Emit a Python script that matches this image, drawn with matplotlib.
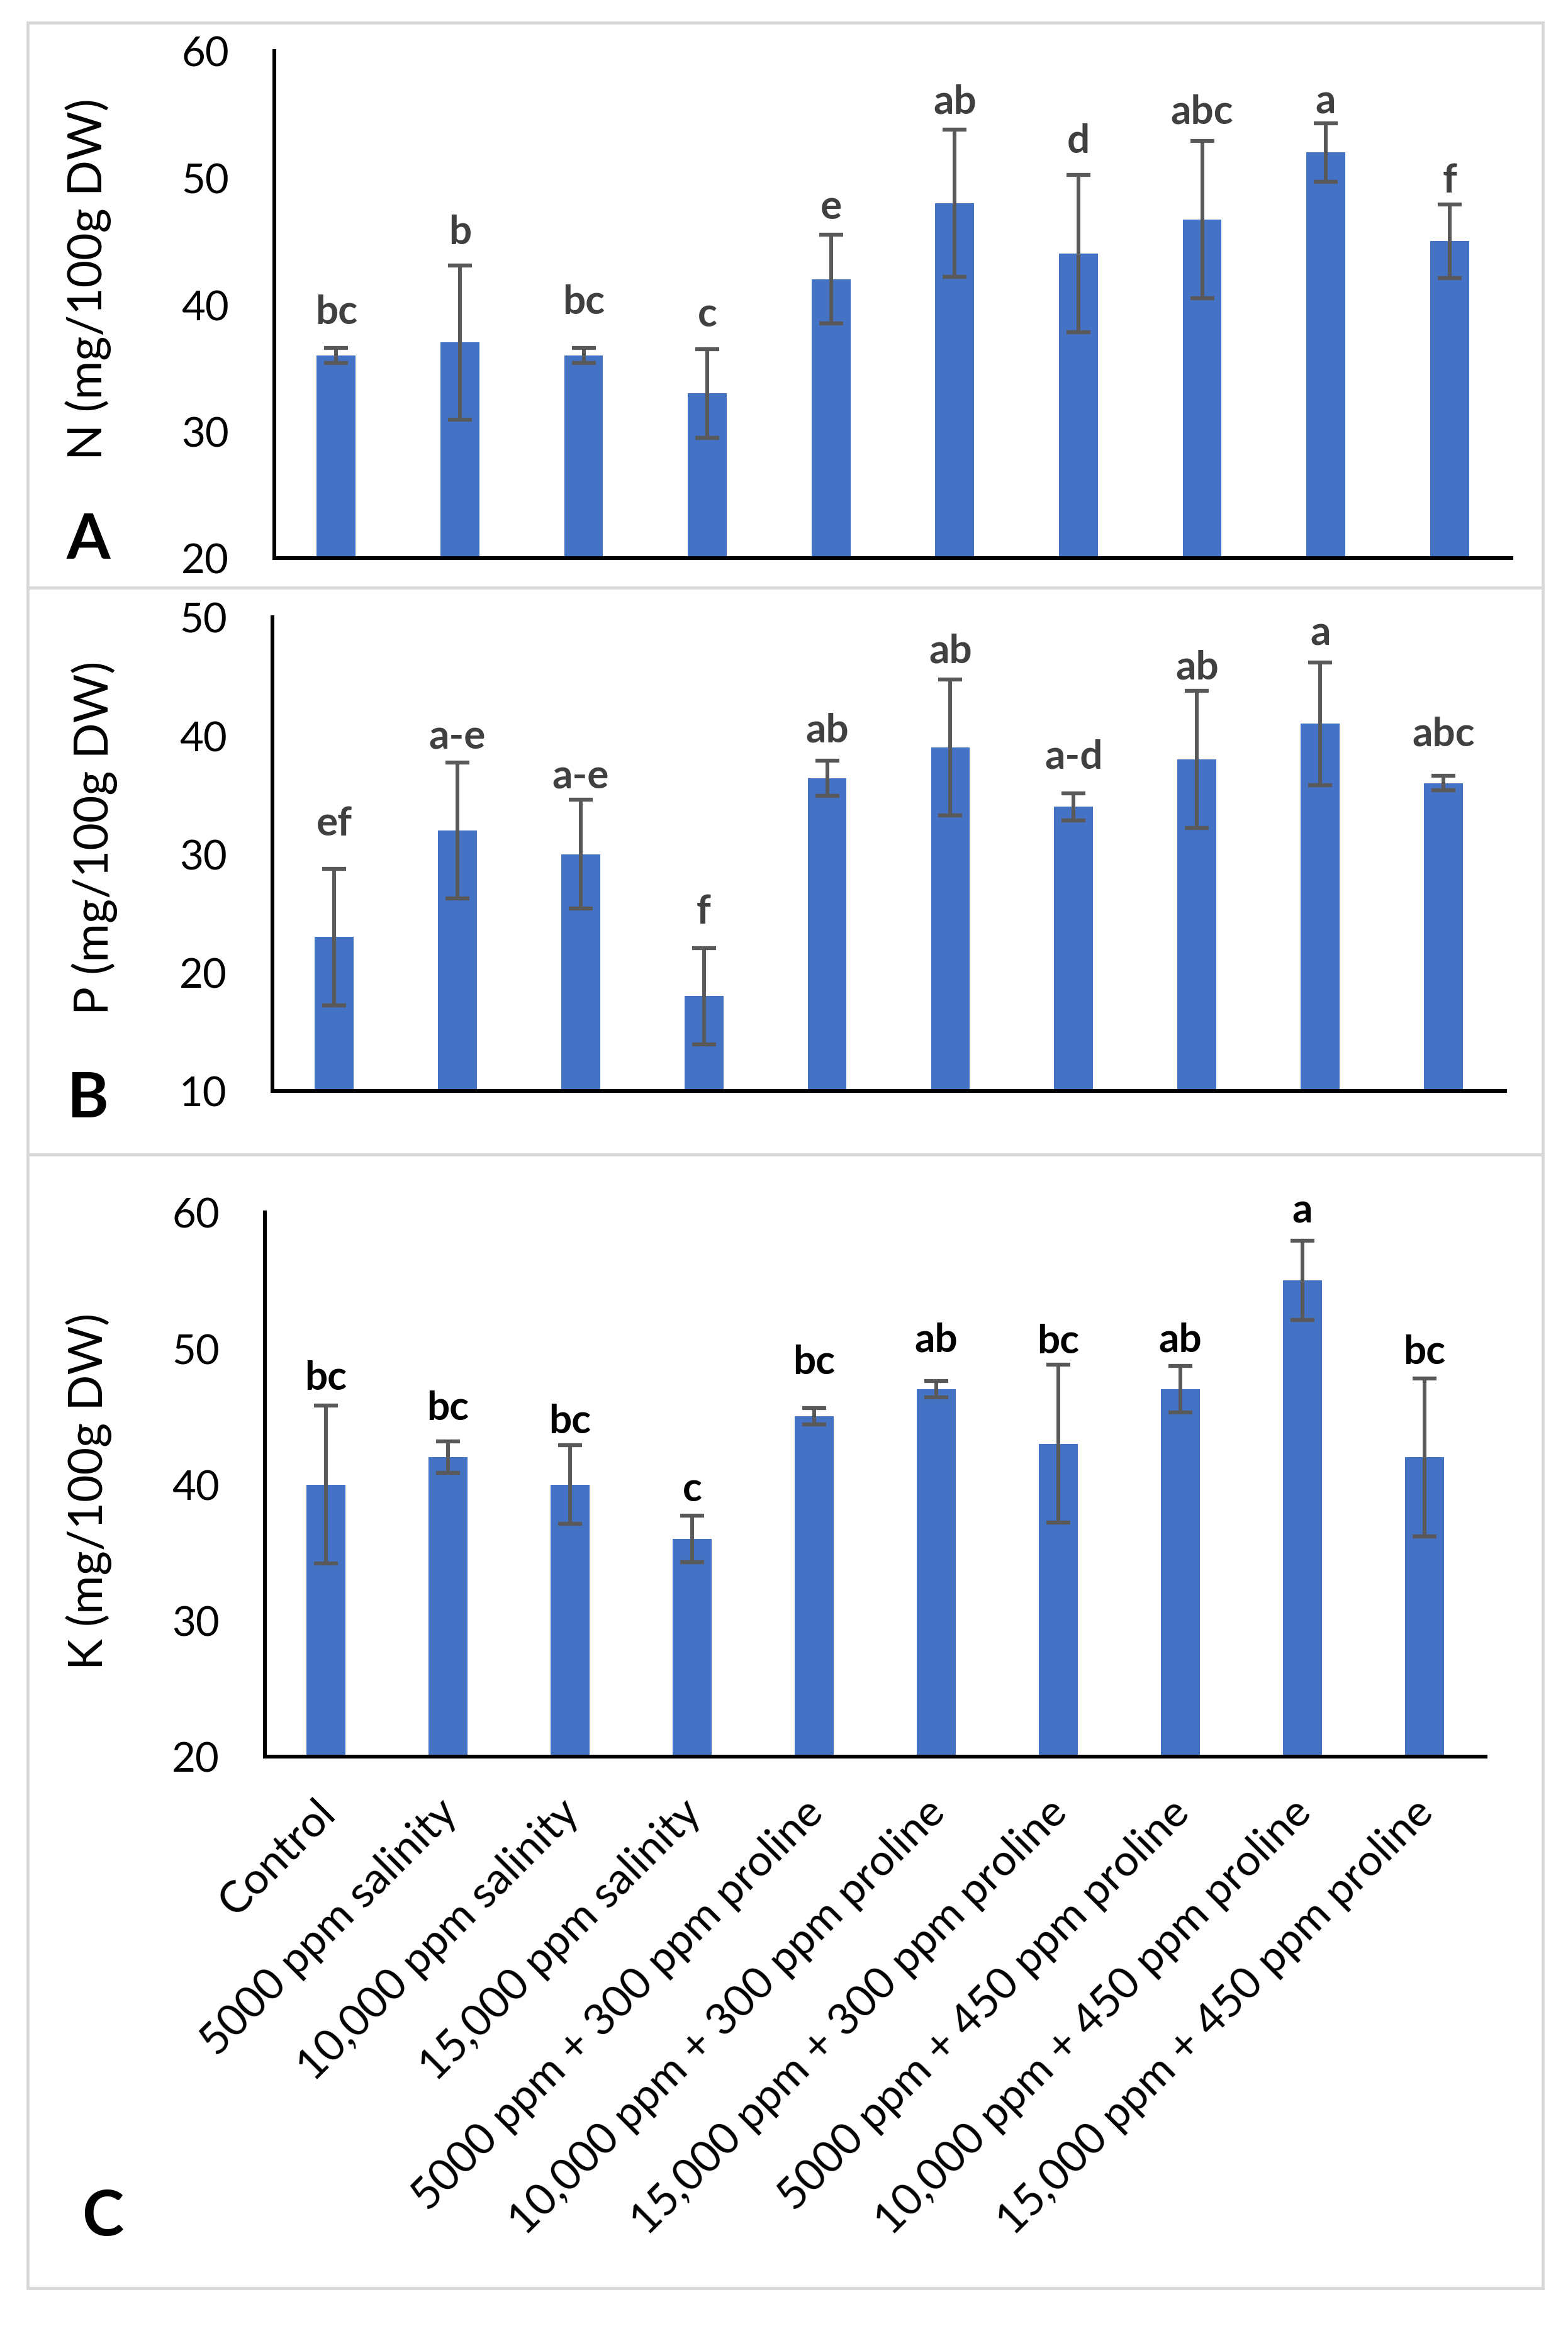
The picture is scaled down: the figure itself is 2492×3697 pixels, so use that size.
import matplotlib
matplotlib.use('Agg')
import matplotlib.pyplot as plt
import matplotlib.transforms as mtransforms
from matplotlib.patches import Rectangle

plt.rcParams['font.family'] = ['Lato', 'DejaVu Sans']

groups = ['Control', '5000 ppm salinity', '10,000 ppm salinity', '15,000 ppm salinity',
          '5000 ppm + 300 ppm proline', '10,000 ppm + 300 ppm proline',
          '15,000 ppm + 300 ppm proline', '5000 ppm + 450 ppm proline',
          '10,000 ppm + 450 ppm proline', '15,000 ppm + 450 ppm proline']

# N content
n_mean = [36, 37, 36, 33, 42, 48, 44, 46.7, 52, 45]
n_err = [0.6, 6.1, 0.6, 3.5, 3.5, 5.8, 6.2, 6.2, 2.3, 2.9]
n_letters = ['bc', 'b', 'bc', 'c', 'e', 'ab', 'd', 'abc', 'a', 'f']
n_lab_y = [38.5, 44.8, 39.3, 38.3, 46.8, 55.1, 52.0, 54.3, 55.1, 48.9]

# P content
p_mean = [23, 32, 30, 18, 36.4, 39, 34, 38, 41, 36]
p_err = [5.75, 5.75, 4.6, 4.05, 1.5, 5.75, 1.15, 5.8, 5.2, 0.6]
p_letters = ['ef', 'a-e', 'a-e', 'f', 'ab', 'ab', 'a-d', 'ab', 'a', 'abc']
p_lab_y = [31.6, 38.9, 35.6, 24.2, 39.5, 46.2, 37.3, 44.8, 47.7, 39.2]

# K content
k_mean = [40, 42, 40, 36, 45, 47, 43, 47, 55, 42]
k_err = [5.8, 1.15, 2.9, 1.7, 0.6, 0.6, 5.8, 1.7, 2.9, 5.8]
k_letters = ['bc', 'bc', 'bc', 'c', 'bc', 'ab', 'bc', 'ab', 'a', 'bc']
k_lab_y = [47.0, 44.8, 43.8, 38.8, 48.15, 49.8, 49.7, 49.8, 59.3, 48.9]

W, H = 2492, 3698
fig = plt.figure(figsize=(W / 100, H / 100), dpi=100)


def px_box(x0, y0, x1, y1):
    # pixel box (top-left origin) -> figure fraction [left, bottom, width, height]
    return [x0 / W, 1 - y1 / H, (x1 - x0) / W, (y1 - y0) / H]


# light grey panel frames
for y0, y1 in [(37, 935), (935, 1836), (1836, 3638)]:
    x0, b, w, h = px_box(44, y0, 2452, y1)
    fig.add_artist(Rectangle((x0, b), w, h, transform=fig.transFigure,
                             fill=False, edgecolor='#d9d9d9', lw=3.5))

panels = [
    dict(box=(436, 82, 2402, 888), mean=n_mean, err=n_err, letters=n_letters,
         lab_y=n_lab_y, ylim=(20, 60), ylabel='N (mg/100g DW)', ylab_xy=(140, 444),
         tag='A', tag_xy=(140, 860), lcol='#404040'),
    dict(box=(433, 982, 2392, 1735), mean=p_mean, err=p_err, letters=p_letters,
         lab_y=p_lab_y, ylim=(10, 50), ylabel='P (mg/100g DW)', ylab_xy=(150, 1332),
         tag='B', tag_xy=(140, 1748), lcol='#404040'),
    dict(box=(421, 1928, 2361, 2793), mean=k_mean, err=k_err, letters=k_letters,
         lab_y=k_lab_y, ylim=(20, 60), ylabel='K (mg/100g DW)', ylab_xy=(141, 2370),
         tag='C', tag_xy=(163, 3525), lcol='black'),
]

x = list(range(len(groups)))
for i, pn in enumerate(panels):
    ax = fig.add_axes(px_box(*pn['box']))
    ax.bar(x, pn['mean'], width=0.315, color='#4472C4', zorder=2)
    ax.errorbar(x, pn['mean'], yerr=pn['err'], fmt='none', ecolor='#595959',
                elinewidth=4.3, capsize=14, capthick=4.5, zorder=3)
    for xi, lab, ly in zip(x, pn['letters'], pn['lab_y']):
        ax.text(xi, ly, lab, ha='center', va='baseline', fontsize=46,
                fontweight='bold', color=pn['lcol'])
    lo, hi = pn['ylim']
    ax.set_ylim(lo, hi)
    ax.set_yticks(range(lo, hi + 1, 10))
    ax.set_xlim(-0.5, len(groups) - 0.5)
    for s in ['top', 'right']:
        ax.spines[s].set_visible(False)
    for s in ['left', 'bottom']:
        ax.spines[s].set_linewidth(4.3)
        ax.spines[s].set_color('black')
    ax.tick_params(axis='y', length=0, pad=52, labelsize=47)
    if i < 2:
        ax.set_xticks([])
    else:
        ax.set_xticks(x)
        ax.set_xticklabels(groups, rotation=45, ha='right', va='center',
                           rotation_mode='anchor', fontsize=50)
        ax.tick_params(axis='x', length=0, pad=0)
        offset = mtransforms.ScaledTranslation(0.04, -0.78, fig.dpi_scale_trans)
        for lab in ax.get_xticklabels():
            lab.set_transform(lab.get_transform() + offset)
    fig.text(pn['ylab_xy'][0] / W, 1 - pn['ylab_xy'][1] / H, pn['ylabel'],
             rotation=90, ha='center', va='center', fontsize=54)
    fig.text(pn['tag_xy'][0] / W, 1 - pn['tag_xy'][1] / H, pn['tag'],
             ha='center', va='center', fontsize=72, fontweight='bold')

fig.savefig('out.png', dpi=100, facecolor='white')
